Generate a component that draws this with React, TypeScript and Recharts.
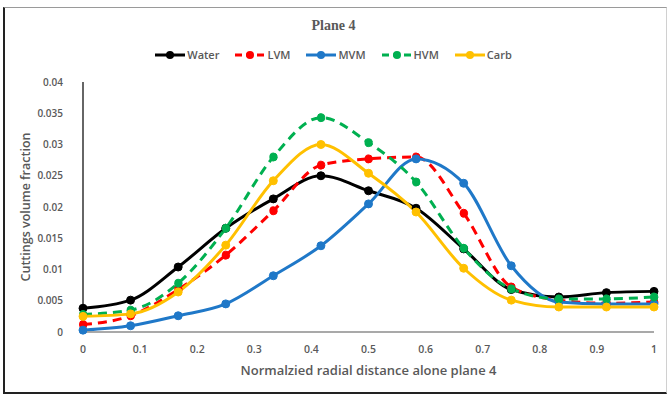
import React from 'react'
import {
  LineChart,
  Line,
  XAxis,
  YAxis,
  Legend,
} from 'recharts'

// radial positions (12 equal steps across plane 4)
const positions = [0, 0.0833, 0.1667, 0.25, 0.3333, 0.4167, 0.5, 0.5833, 0.6667, 0.75, 0.8333, 0.9167, 1]

const water = [0.0038, 0.0051, 0.0104, 0.0166, 0.0213, 0.025, 0.0226, 0.0198, 0.0133, 0.0068, 0.0056, 0.0063, 0.0065]
const lvm = [0.0012, 0.0026, 0.0068, 0.0123, 0.0194, 0.0267, 0.0277, 0.028, 0.019, 0.0072, 0.0051, 0.0046, 0.0048]
const mvm = [0.0003, 0.001, 0.0026, 0.0045, 0.009, 0.0138, 0.0205, 0.0277, 0.0238, 0.0106, 0.0048, 0.0045, 0.0045]
const hvm = [0.0028, 0.0035, 0.0078, 0.0166, 0.028, 0.0343, 0.0303, 0.024, 0.0134, 0.0069, 0.0053, 0.0053, 0.0056]
const carb = [0.0025, 0.0029, 0.0064, 0.0139, 0.0242, 0.03, 0.0254, 0.0192, 0.0102, 0.0051, 0.004, 0.004, 0.004]

const yTicks = [0, 0.005, 0.01, 0.015, 0.02, 0.025, 0.03, 0.035, 0.04]
const xTicks = [0, 0.1, 0.2, 0.3, 0.4, 0.5, 0.6, 0.7, 0.8, 0.9, 1]

const series = [
  { key: 'water', name: 'Water', color: '#000000', dashed: false },
  { key: 'lvm', name: 'LVM', color: '#ff0000', dashed: true },
  { key: 'mvm', name: 'MVM', color: '#1f78c8', dashed: false },
  { key: 'hvm', name: 'HVM', color: '#00b050', dashed: true },
  { key: 'carb', name: 'Carb', color: '#ffc000', dashed: false },
]

const data = positions.map((x, i) => ({
  x,
  water: water[i],
  lvm: lvm[i],
  mvm: mvm[i],
  hvm: hvm[i],
  carb: carb[i],
}))

const font = 'Open Sans, sans-serif'
const grey = '#595959'

function LegendContent() {
  return (
    <div style={{ display: 'flex', justifyContent: 'center', gap: 16, fontFamily: font, fontSize: 11, fontWeight: 600, color: grey }}>
      {series.map((s) => (
        <div key={s.key} style={{ display: 'flex', alignItems: 'center' }}>
          <svg width={30} height={10}>
            <line x1={0} y1={5} x2={30} y2={5} stroke={s.color} strokeWidth={3} strokeDasharray={s.dashed ? '7 4' : undefined} />
            <circle cx={15} cy={5} r={4} fill={s.color} />
          </svg>
          <span style={{ marginLeft: 2 }}>{s.name}</span>
        </div>
      ))}
    </div>
  )
}

export default function App() {
  return (
    <div style={{ position: 'absolute', left: 0, top: 0, width: 667, height: 396, background: '#fff' }}>
      <div
        style={{
          position: 'absolute',
          left: 3,
          top: 7,
          width: 661,
          height: 384,
          borderTop: '1px solid #9a9a9a',
          borderRight: '1px solid #d0d0d0',
          borderLeft: '2px solid #222',
          borderBottom: '2px solid #222',
        }}
      />
      <div
        style={{
          position: 'absolute',
          top: 18,
          width: 667,
          textAlign: 'center',
          fontFamily: 'Liberation Serif, serif',
          fontWeight: 'bold',
          fontSize: 14,
          color: grey,
        }}
      >
        Plane 4
      </div>
      <LineChart width={667} height={396} data={data} margin={{ top: 67, right: 13, bottom: 24, left: 20 }}>
        <XAxis
          dataKey="x"
          type="number"
          domain={[0, 1]}
          ticks={xTicks}
          tickLine={false}
          axisLine={{ stroke: '#8c8c8c', strokeWidth: 1.5 }}
          tick={{ fontSize: 10.5, fill: grey, fontFamily: font, fontWeight: 600 }}
          tickMargin={8}
          height={40}
          label={{ value: 'Normalzied radial distance alone plane 4', position: 'insideBottom', offset: -3, fontSize: 13, fill: grey, fontFamily: font, fontWeight: 600 }}
        />
        <YAxis
          type="number"
          domain={[0, 0.04]}
          ticks={yTicks}
          tickLine={false}
          axisLine={{ stroke: '#333', strokeWidth: 1.5 }}
          tick={{ fontSize: 10, fill: grey, fontFamily: font, fontWeight: 600 }}
          tickMargin={14}
          width={63}
          label={{ value: 'Cuttings volume fraction', angle: -90, position: 'insideLeft', offset: 6, style: { textAnchor: 'middle' }, fontSize: 12.5, fill: grey, fontFamily: font, fontWeight: 600 }}
        />
        <Legend verticalAlign="top" content={<LegendContent />} wrapperStyle={{ top: 47, left: 0, width: 667 }} />
        {series.map((s) => (
          <Line
            key={s.key}
            type="monotone"
            dataKey={s.key}
            name={s.name}
            stroke={s.color}
            strokeWidth={3}
            strokeDasharray={s.dashed ? '9 6' : undefined}
            dot={{ r: 4, fill: s.color, stroke: s.color, strokeWidth: 1 }}
            isAnimationActive={false}
          />
        ))}
      </LineChart>
    </div>
  )
}
